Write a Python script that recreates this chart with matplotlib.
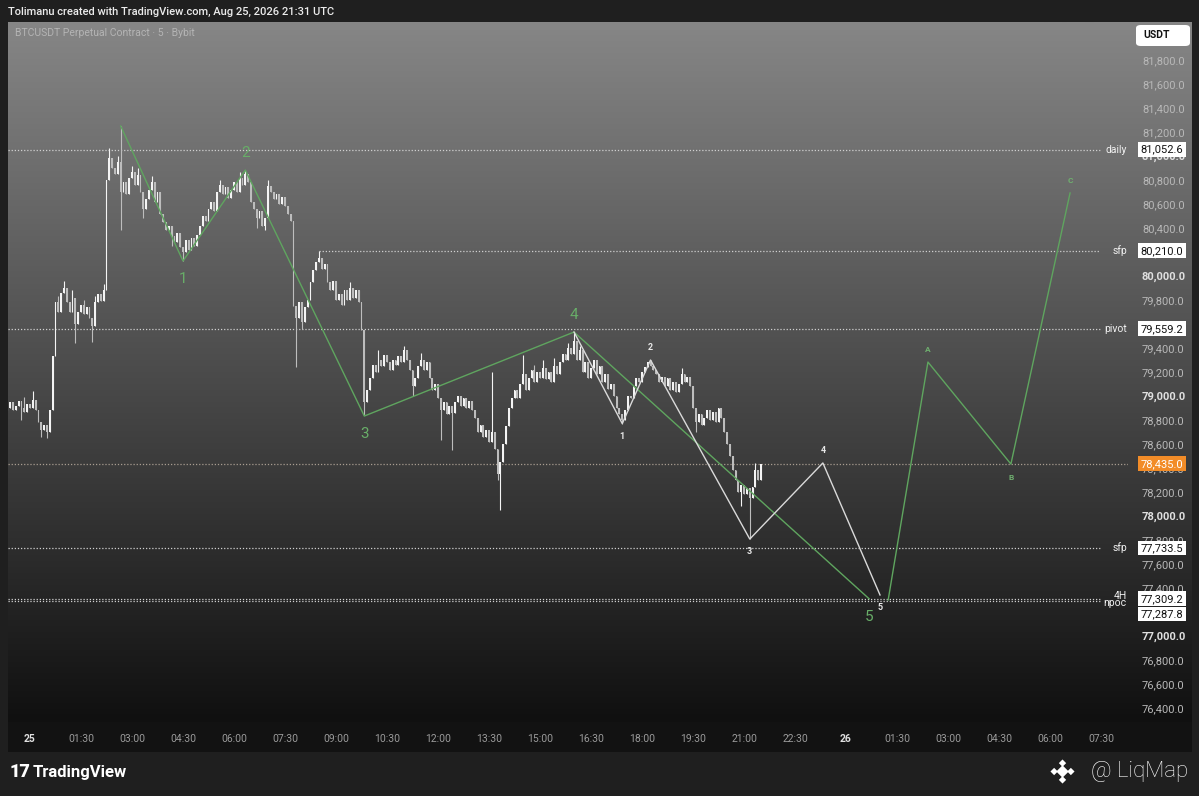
import matplotlib
matplotlib.use("Agg")
import matplotlib.pyplot as plt
from matplotlib.patches import Rectangle, FancyBboxPatch
import numpy as np
import pandas as pd

plt.rcParams['font.family'] = ['Roboto', 'DejaVu Sans']

W, H = 1199, 796

# BTCUSDT 5m closes, Aug 24 23:20 -> Aug 25 21:30, one row per hour
closes = [
    78900, 78950, 78880, 78920, 78960, 78900, 78870, 78930,                               # 23:20
    78900, 78970, 78880, 78780, 78720, 78760, 78700, 78880, 79330, 79780, 79700, 79860,   # 00
    79900, 79780, 79700, 79820, 79600, 79700, 79760, 79680, 79740, 79650, 79580, 79780,   # 01
    79850, 79790, 79880, 80800, 80980, 80900, 80850, 80950, 80700, 80780, 80680, 80820,   # 02
    80870, 80760, 80840, 80700, 80560, 80640, 80720, 80780, 80620, 80700, 80520, 80450,   # 03
    80380, 80420, 80330, 80280, 80360, 80240, 80200, 80300, 80220, 80320, 80250, 80340,   # 04
    80420, 80500, 80460, 80560, 80620, 80540, 80700, 80760, 80680, 80740, 80650, 80720,   # 05
    80780, 80700, 80820, 80760, 80850, 80780, 80620, 80560, 80480, 80540, 80420, 80480,   # 06
    80750, 80700, 80640, 80680, 80600, 80660, 80580, 80520, 80460, 79750, 79650, 79780,   # 07
    79620, 79740, 79800, 79950, 80050, 80120, 80150, 80060, 80100, 79950, 79880, 79960,   # 08
    79800, 79850, 79760, 79880, 79800, 79900, 79820, 79880, 79780, 79550, 78950, 79050,   # 09
    79150, 79260, 79200, 79300, 79250, 79340, 79280, 79220, 79300, 79260, 79330, 79280,   # 10
    79380, 79300, 79220, 79080, 79150, 79250, 79300, 79220, 79280, 79150, 79050, 79100,   # 11
    78980, 78880, 78950, 78850, 78920, 78860, 78950, 79000, 78920, 78980, 78900, 78960,   # 12
    78880, 78820, 78700, 78760, 78660, 78720, 78620, 78700, 78560, 78350, 78450, 78600,   # 13
    78750, 78900, 78980, 79050, 78980, 79100, 79180, 79050, 79150, 79220, 79120, 79200,   # 14
    79150, 79230, 79140, 79200, 79120, 79250, 79180, 79280, 79350, 79300, 79400, 79350,   # 15
    79460, 79300, 79380, 79200, 79280, 79150, 79230, 79300, 79180, 79250, 79120, 79180,   # 16
    79060, 79100, 79000, 78900, 78850, 78800, 78880, 79000, 78980, 79080, 79150, 79120,   # 17
    79200, 79240, 79280, 79250, 79220, 79180, 79120, 79160, 79080, 79150, 79050, 79120,   # 18
    79030, 79100, 79180, 79120, 79160, 79080, 78900, 78780, 78850, 78760, 78820, 78880,   # 19
    78800, 78870, 78780, 78900, 78820, 78700, 78600, 78500, 78380, 78300, 78200, 78260,   # 20
    78180, 78230, 78150, 78240, 78380, 78300, 78435,                                      # 21
]
first_open = 78880

# visible wick extremes (HH:MM -> price)
highs = {
    "23:50": 78990, "00:05": 79040, "00:50": 79830, "01:00": 79960, "01:15": 79880,
    "01:35": 79800, "01:55": 79830, "02:10": 79930, "02:20": 81070, "02:35": 81000,
    "02:40": 81250, "03:00": 80920, "03:10": 80900, "03:35": 80830, "05:35": 80800,
    "06:10": 80870, "06:20": 80883, "07:00": 80800, "08:30": 80210, "09:25": 79950,
    "10:15": 79380, "11:00": 79420, "11:30": 79360, "13:35": 79200, "14:30": 79340,
    "14:50": 79260, "15:05": 79300, "15:25": 79320, "15:50": 79440, "16:00": 79533,
    "16:10": 79420, "18:15": 79300, "19:10": 79230, "21:20": 78440,
}
lows = {
    "23:45": 78800, "00:20": 78660, "00:30": 78650, "01:20": 79440, "01:50": 79450,
    "02:40": 80380, "03:20": 80480, "04:10": 80250, "04:30": 80125, "06:40": 80400,
    "06:55": 80380, "07:50": 79240, "08:00": 79560, "09:50": 78840, "11:15": 79000,
    "12:05": 78630, "12:25": 78550, "13:45": 78300, "13:50": 78050, "17:25": 78770,
    "19:35": 78700, "20:55": 78080, "21:10": 77808,
}

# wave counts (hours from Aug 25 00:00, price)
green_t = [2.667, 4.5, 6.333, 9.833, 16.0, 24.68]
green_p = [81250, 80125, 80883, 78833, 79533, 77310]
green_lbl = ["", "1", "2", "3", "4", "5"]
white_t = [16.0, 17.42, 18.25, 21.17, 23.32, 25.0]
white_p = [79533, 78770, 79300, 77808, 78442, 77342]
white_lbl = ["", "1", "2", "3", "4", "5"]
abc_t = [25.24, 26.41, 28.85, 30.59]
abc_p = [77300, 79283, 78433, 80692]
abc_lbl = ["", "A", "B", "C"]

# horizontal levels
level_names = ["daily", "sfp", "pivot", "sfp", "4H", "npoc"]
level_prices = [81052.6, 80210.0, 79559.2, 77733.5, 77309.2, 77287.8]
level_start = [None, 8.5, None, None, None, None]
last_price = 78435.0

price_ticks = list(range(76400, 81801, 200))
time_ticks = [i * 1.5 for i in range(22)]
time_labels = ["25", "01:30", "03:00", "04:30", "06:00", "07:30", "09:00", "10:30",
               "12:00", "13:30", "15:00", "16:30", "18:00", "19:30", "21:00", "22:30",
               "26", "01:30", "03:00", "04:30", "06:00", "07:30"]

# ---- build candles
stamps = pd.date_range("2026-08-24 23:20", periods=len(closes), freq="5min")
t = (stamps - pd.Timestamp("2026-08-25 00:00")).total_seconds().to_numpy() / 3600
c = np.array(closes, float)
o = np.concatenate([[first_open], c[:-1]])
hi = np.maximum(o, c)
lo = np.minimum(o, c)
keys = stamps.strftime("%H:%M")
for k, v in highs.items():
    hi[keys == k] = v
for k, v in lows.items():
    lo[keys == k] = v

fig = plt.figure(figsize=(W / 100, H / 100), dpi=100, facecolor="#1f1f1f")


def fx(px):
    return px / W


def fy(py):
    return 1 - py / H


# gradient pane (chart + price scale)
bg = fig.add_axes([fx(8), fy(722), fx(1192 - 8), 700 / H])
bg.set_zorder(-2)
grad = np.linspace(0, 1, 256).reshape(-1, 1)
top = np.array([0x86, 0x86, 0x86]) / 255
bot = np.array([0x10, 0x10, 0x10]) / 255
img = top + (bot - top) * grad[..., None]
bg.imshow(img, aspect="auto", extent=[0, 1, 0, 1])
bg.set_axis_off()

# time scale strip
fig.patches.append(Rectangle((fx(8), fy(752)), fx(1184), 30 / H, transform=fig.transFigure,
                             facecolor="#121212", edgecolor="none", zorder=-1))

ax = fig.add_axes([fx(8), fy(722), fx(1120), 700 / H])
ax.set_zorder(1)
ax.set_facecolor("none")
ax.set_xlim(-0.647, 32.294)
ax.set_ylim(76283.3, 82116.7)
for s in ax.spines.values():
    s.set_visible(False)

# candles
up = c >= o
col = np.where(up, "#f4f4f4", "#bdbdbd")
ax.vlines(t, lo, hi, colors=col, lw=0.8, zorder=3)
ax.bar(t, np.maximum(np.abs(c - o), 8), bottom=np.minimum(o, c), width=0.058,
       color=col, lw=0, zorder=3)

# levels
for name, p, st in zip(level_names, level_prices, level_start):
    x0 = -0.647 if st is None else st
    ax.plot([x0, 31.47], [p, p], ls=(0, (1, 1.5)), color="#d0d0d0", lw=0.9, zorder=2)
ax.plot([-0.647, 32.294], [last_price, last_price], ls=(0, (1, 1.5)), color="#a89c90",
        lw=0.9, zorder=2)
lbl_dy = {"4H": 2, "npoc": -1}
for name, p in zip(level_names, level_prices):
    ax.annotate(name, (32.26, p), xytext=(0, lbl_dy.get(name, 0)), textcoords="offset points",
                ha="right", va="center", color="#f0f0f0", fontsize=7.5, zorder=5,
                annotation_clip=False)

# price boxes on the scale
box_dy = {77287.8: -9}
for p in level_prices:
    ax.annotate(f"{p:,.1f}", (1.0, p), xycoords=("axes fraction", "data"),
                xytext=(9, box_dy.get(p, 0)), textcoords="offset points",
                ha="left", va="center", color="#111111", fontsize=8, zorder=6,
                annotation_clip=False,
                bbox=dict(boxstyle="square,pad=0.22", facecolor="white", edgecolor="none"))
ax.annotate(f"{last_price:,.1f}", (1.0, last_price), xycoords=("axes fraction", "data"),
            xytext=(9, 0), textcoords="offset points", ha="left", va="center",
            color="white", fontsize=8, zorder=6, annotation_clip=False,
            bbox=dict(boxstyle="square,pad=0.22", facecolor="#f28c28", edgecolor="none"))

# waves
ax.plot(green_t, green_p, color="#5fa55f", lw=1.0, zorder=4)
ax.plot(white_t, white_p, color="#dadada", lw=1.0, zorder=4)
ax.plot(abc_t, abc_p, color="#5fa55f", lw=1.0, zorder=4)
for i, (tt, pp, lb) in enumerate(zip(green_t, green_p, green_lbl)):
    if lb:
        dy = 12.5 if pp > green_p[i - 1] else -13
        ax.annotate(lb, (tt, pp), xytext=(0, dy), textcoords="offset points", ha="center",
                    va="center", color="#68ad68", fontsize=11, zorder=5)
for i, (tt, pp, lb) in enumerate(zip(white_t, white_p, white_lbl)):
    if lb:
        dy = 9 if pp > white_p[i - 1] else -9
        ax.annotate(lb, (tt, pp), xytext=(0, dy), textcoords="offset points", ha="center",
                    va="center", color="#e8e8e8", fontsize=6.5, fontweight="bold", zorder=5)
for i, (tt, pp, lb) in enumerate(zip(abc_t, abc_p, abc_lbl)):
    if lb:
        dy = 9 if pp > abc_p[i - 1] else -10
        ax.annotate(lb, (tt, pp), xytext=(0, dy), textcoords="offset points", ha="center",
                    va="center", color="#6fb06f", fontsize=6, fontweight="bold", zorder=5)

# axes ticks
ax.yaxis.tick_right()
ax.set_yticks(price_ticks)
ax.set_yticklabels([f"{v:,.1f}" for v in price_ticks])
ax.tick_params(axis="y", length=0, pad=10, labelsize=8, labelcolor="#b8b8b8")
for tl, v in zip(ax.get_yticklabels(), price_ticks):
    if v % 1000 == 0:
        tl.set_fontweight("bold")
        tl.set_color("#e0e0e0")
ax.set_xticks(time_ticks)
ax.set_xticklabels(time_labels)
ax.tick_params(axis="x", length=0, pad=9, labelsize=7.5, labelcolor="#9a9a9a")
for tl, s in zip(ax.get_xticklabels(), time_labels):
    if s in ("25", "26"):
        tl.set_fontweight("bold")
        tl.set_color("#e0e0e0")

# header / titles
fig.text(fx(8), fy(12), "Tolimanu created with TradingView.com, Aug 25, 2026 21:31 UTC",
         color="#ececec", fontsize=8, fontweight="medium", va="center")
fig.text(fx(15), fy(33), "BTCUSDT Perpetual Contract · 5 · Bybit", color="#b4b4b4",
         fontsize=7.5, va="center", zorder=3)
fig.patches.append(FancyBboxPatch((fx(1136), fy(46)), fx(54), 21 / H,
                                  boxstyle="round,pad=0,rounding_size=0.004",
                                  transform=fig.transFigure, facecolor="white",
                                  edgecolor="none", zorder=5))
fig.text(fx(1157), fy(35), "USDT", color="#111111", fontsize=7.5, fontweight="bold",
         ha="center", va="center", zorder=6)

# footer
fig.text(fx(10), fy(772), "17", color="white", fontsize=13, fontweight="black",
         va="center")
fig.text(fx(33), fy(772), "TradingView", color="white", fontsize=12, fontweight="bold",
         va="center")
fig.text(fx(1188), fy(771), "@ LiqMap", color="white", fontsize=16, fontweight="light",
         ha="right", va="center")
ic = fig.add_axes([fx(1049), fy(785), fx(27), 27 / H])
ic.set_xlim(-1, 1)
ic.set_ylim(-1, 1)
ic.set_axis_off()
ic.scatter([0, -0.62, 0.62, 0, 0], [0, 0, 0, 0.62, -0.62], marker="D",
           s=[40, 14, 14, 14, 14], color="white", lw=0)

fig.savefig("out.png", dpi=100, facecolor=fig.get_facecolor())
